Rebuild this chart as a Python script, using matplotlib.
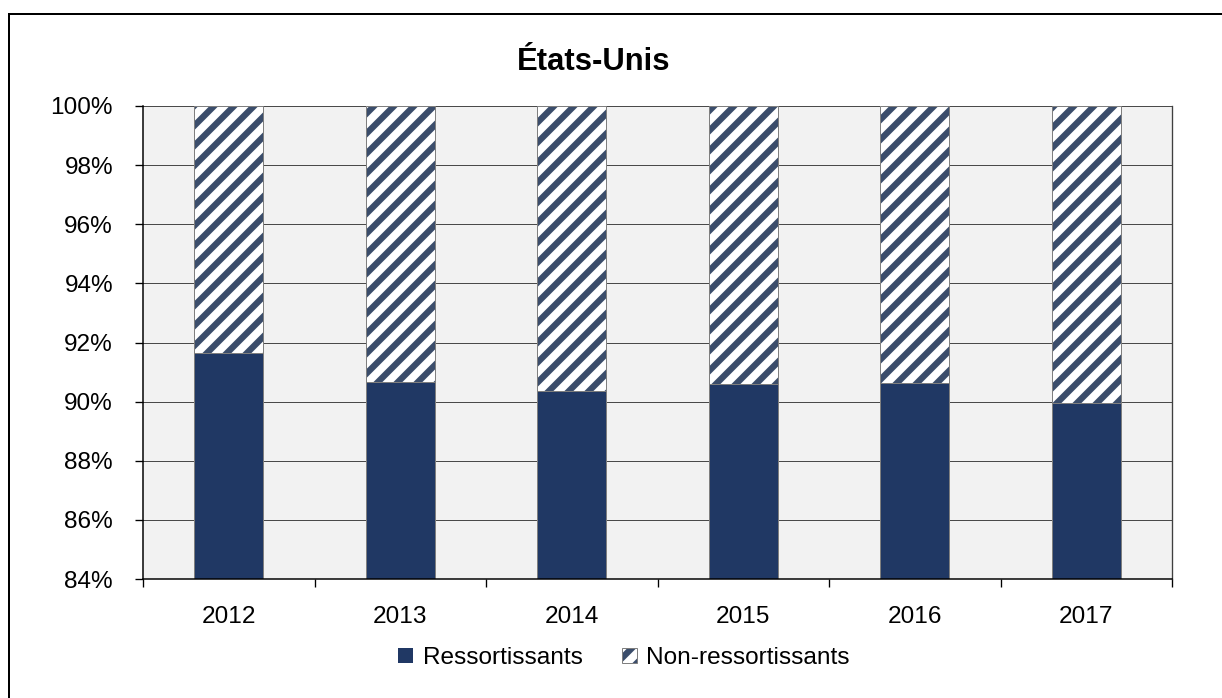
import matplotlib.pyplot as plt
from matplotlib.patches import Rectangle, Patch
from matplotlib.legend_handler import HandlerTuple
from matplotlib.ticker import FuncFormatter, MultipleLocator

years = ["2012", "2013", "2014", "2015", "2016", "2017"]
ressortissants = [91.65, 90.68, 90.37, 90.60, 90.62, 89.97]
non_ressortissants = [100 - v for v in ressortissants]

navy = "#203864"
stripe = "#3b4d6b"

plt.rcParams["font.family"] = ["Liberation Sans", "DejaVu Sans"]
plt.rcParams["hatch.linewidth"] = 3.8

W, H, DPI = 1222, 698, 120
fig = plt.figure(figsize=(W / DPI, H / DPI), dpi=DPI)
ax = fig.add_axes([143 / W, 1 - 579 / H, (1172 - 143) / W, (579 - 106) / H])
ax.set_facecolor("#f2f2f2")

x = range(len(years))
bw = 0.40
ax.bar(x, ressortissants, bw, bottom=0, color=navy, edgecolor="#7f7f7f",
       linewidth=0.6, zorder=2)
ax.bar(x, non_ressortissants, bw, bottom=ressortissants, color="white",
       edgecolor=stripe, linewidth=0, hatch="//", zorder=2)
ax.bar(x, non_ressortissants, bw, bottom=ressortissants, fill=False,
       edgecolor="#7f7f7f", linewidth=0.6, zorder=3)

ax.set_ylim(84, 100)
ax.set_xlim(-0.5, len(years) - 0.5)
ax.yaxis.set_major_locator(MultipleLocator(2))
ax.yaxis.set_major_formatter(FuncFormatter(lambda v, p: f"{v:.0f}%"))
ax.grid(axis="y", color="#4a4a4a", linewidth=0.6, zorder=1)
ax.set_axisbelow(True)

ax.set_xticks(list(x))
ax.set_xticklabels(years)
ax.set_xticks([i - 0.5 for i in range(len(years) + 1)], minor=True)
ax.tick_params(axis="x", which="major", length=0, pad=16, labelsize=14.6)
ax.tick_params(axis="x", which="minor", length=5, width=0.8, direction="out")
ax.tick_params(axis="y", length=5, width=0.8, direction="out", pad=13,
               labelsize=14.6)

for s in ["left", "bottom"]:
    ax.spines[s].set_color("black")
    ax.spines[s].set_linewidth(0.9)
ax.spines["right"].set_color("#404040")
ax.spines["right"].set_linewidth(0.8)
ax.spines["top"].set_visible(False)

fig.text(594 / W, 1 - 62 / H, "États-Unis", ha="center", va="center",
         fontsize=18.6, fontweight="bold")

handles = [Patch(facecolor=navy, edgecolor="none"),
           (Patch(facecolor="white", edgecolor=stripe, linewidth=0, hatch="//"),
            Patch(fill=False, edgecolor="#7f7f7f", linewidth=0.6))]
fig.legend(handles, ["Ressortissants", "Non-ressortissants"], loc="center",
           bbox_to_anchor=(624 / W, 1 - 658 / H), ncol=2, frameon=False,
           fontsize=14.6, handlelength=0.62, handleheight=0.62,
           handletextpad=0.4, columnspacing=1.6,
           handler_map={tuple: HandlerTuple(ndivide=1)})

# chart frame, cropped at the right and bottom
fig.patches.append(Rectangle((9 / W, -0.1), 1.2, 1.1 - 14 / H, fill=False,
                             edgecolor="black", linewidth=1.2,
                             transform=fig.transFigure, figure=fig))

fig.savefig("out.png", dpi=DPI)
